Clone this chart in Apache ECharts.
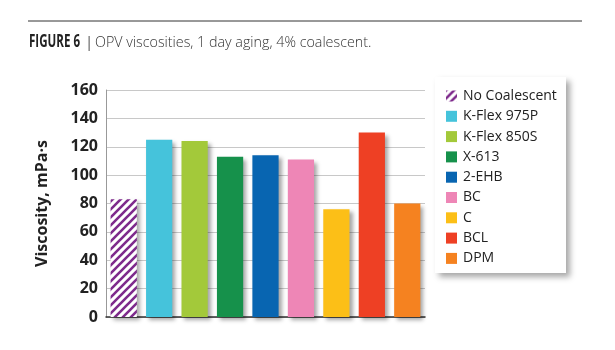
<!DOCTYPE html>
<html>
<head>
<meta charset="utf-8">
<script src="https://cdn.jsdelivr.net/npm/echarts@6/dist/echarts.min.js"></script>
<style>
  html, body { margin: 0; padding: 0; background: #fff; }
  #chart { width: 615px; height: 350px; }
</style>
</head>
<body>
<div id="chart"></div>
<script>
// 数据
const categories = ['No Coalescent', 'K-Flex 975P', 'K-Flex 850S', 'X-613', '2-EHB', 'BC', 'C', 'BCL', 'DPM'];
const viscosity = [83, 125, 124, 113, 114, 111, 76, 130, 80];
const barColors = ['#7E2A8C', '#45C3DB', '#A3C93A', '#16914B', '#0865B1', '#EE86B6', '#FCBF17', '#EE4024', '#F58220'];

// 斜线填充（No Coalescent）
function makeHatch(color) {
    const c = document.createElement('canvas');
    c.width = 8; c.height = 8;
    const ctx = c.getContext('2d');
    ctx.fillStyle = '#fff';
    ctx.fillRect(0, 0, 8, 8);
    ctx.strokeStyle = color;
    ctx.lineWidth = 2.6;
    ctx.beginPath();
    ctx.moveTo(-2, 10); ctx.lineTo(10, -2);
    ctx.moveTo(-6, 6); ctx.lineTo(6, -6);
    ctx.moveTo(2, 14); ctx.lineTo(14, 2);
    ctx.stroke();
    return c;
}

const chart = echarts.init(document.getElementById('chart'));

const series = categories.map((name, i) => ({
    name: name,
    type: 'bar',
    stack: 'all',
    barCategoryGap: '26%',
    data: categories.map((_, j) => (j === i ? viscosity[i] : '-')),
    itemStyle: {
        color: i === 0 ? { image: makeHatch(barColors[0]), repeat: 'repeat' } : barColors[i],
        shadowColor: 'rgba(0,0,0,0.35)',
        shadowBlur: 4,
        shadowOffsetX: 3,
        shadowOffsetY: 3
    }
}));

const option = {
    animation: false,
    backgroundColor: '#fff',
    graphic: [
        { type: 'line', shape: { x1: 28, y1: 21, x2: 582, y2: 21 }, style: { stroke: '#333', lineWidth: 1 } },
        {
            type: 'text', x: 29, y: 34, scaleX: 0.68,
            style: {
                text: 'FIGURE 6',
                font: 'bold 17px "Open Sans", sans-serif',
                fill: '#222'
            }
        },
        {
            type: 'text', x: 85, y: 35,
            style: { text: '|', font: '15px "Open Sans", sans-serif', fill: '#555' }
        },
        {
            type: 'text', x: 95, y: 36,
            style: {
                text: 'OPV viscosities, 1 day aging, 4% coalescent.',
                font: '300 14.3px "Open Sans", sans-serif',
                fill: '#333'
            }
        },
        {
            type: 'rect', shape: { x: 435, y: 77, width: 131, height: 196 },
            style: { fill: '#fff', shadowColor: 'rgba(0,0,0,0.35)', shadowBlur: 6, shadowOffsetX: 4, shadowOffsetY: 4 },
            z: 0
        }
    ],
    grid: { left: 106, right: 190, top: 90, bottom: 33, containLabel: false },
    legend: {
        orient: 'vertical',
        left: 441,
        top: 84,
        itemWidth: 11,
        itemHeight: 11,
        itemGap: 6.3,
        icon: 'rect',
        textStyle: { fontFamily: 'Open Sans', fontSize: 14, lineHeight: 14, color: '#222', padding: [0, 0, 0, 1] },
        itemStyle: { shadowBlur: 0, shadowOffsetX: 0, shadowOffsetY: 0 },
        data: categories,
        z: 5
    },
    xAxis: {
        type: 'category',
        data: categories,
        axisLine: { lineStyle: { color: '#333', width: 1.5 } },
        axisTick: { show: false },
        axisLabel: { show: false }
    },
    yAxis: {
        type: 'value',
        min: 0,
        max: 160,
        interval: 20,
        name: 'Viscosity, mPa·s',
        nameLocation: 'middle',
        nameGap: 56,
        nameTextStyle: { fontFamily: 'Open Sans', fontWeight: 'bold', fontSize: 16, color: '#222' },
        axisLine: { show: true, lineStyle: { color: '#999' } },
        axisTick: { show: false },
        axisLabel: { fontFamily: 'Open Sans', fontWeight: 'bold', fontSize: 16, color: '#222', margin: 8 },
        splitLine: { lineStyle: { color: '#c8c8c8' } }
    },
    series: series
};

chart.setOption(option);
</script>
</body>
</html>
